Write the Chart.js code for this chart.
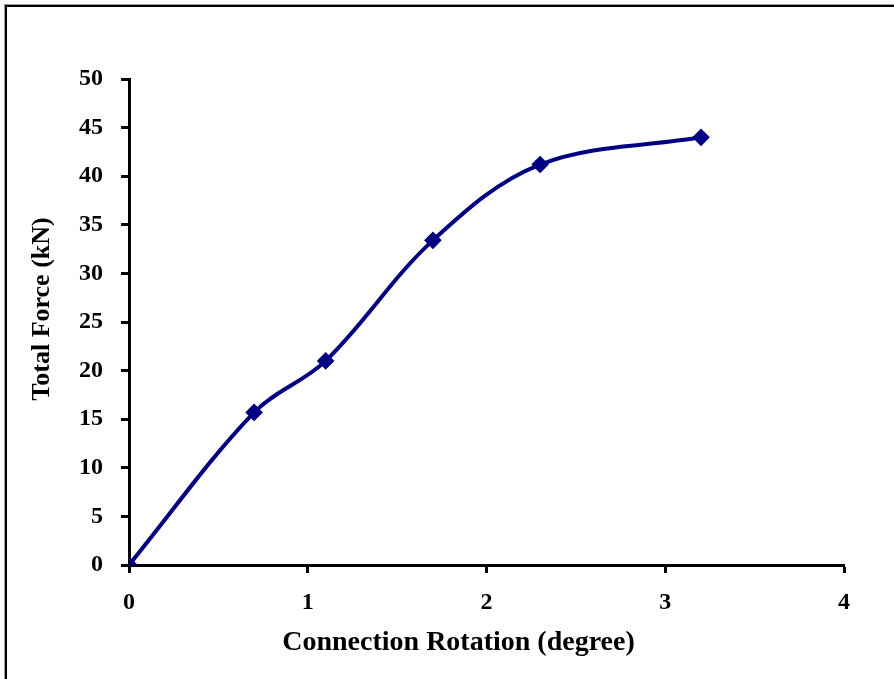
<!DOCTYPE html>
<html lang="en">
<head>
    <meta charset="UTF-8">
    <title>Total Force vs Connection Rotation</title>
    <script src="https://cdn.jsdelivr.net/npm/chart.js"></script>
    <style>
        body {
            margin: 0;
            background: #fff;
        }
        .wrap {
            position: relative;
            width: 894px;
            height: 679px;
            overflow: hidden;
        }
        .frame {
            position: absolute;
            left: 5px;
            top: 5px;
            width: 1000px;
            height: 1000px;
            border-left: 2px solid #000;
            border-top: 2px solid #000;
            box-shadow: -1px -1px 0 #999;
        }
        canvas {
            position: absolute;
            left: 0;
            top: 0;
        }
    </style>
</head>
<body>
    <div class="wrap">
        <div class="frame"></div>
        <canvas id="forceChart" width="894" height="679"></canvas>
    </div>

    <script>
        // values
        const rotation = [0, 0.7, 1.1, 1.7, 2.3, 3.2];
        const force = [0, 15.7, 21, 33.4, 41.2, 44];
        const xTicks = [0, 1, 2, 3, 4];
        const yTicks = [0, 5, 10, 15, 20, 25, 30, 35, 40, 45, 50];

        const points = rotation.map((r, i) => ({ x: r, y: force[i] }));
        const font = { family: 'Liberation Serif, Times New Roman, serif', weight: 'bold' };
        // en spaces nudge the axis titles off-centre, like the original
        const sp = '\u2002';

        const ctx = document.getElementById('forceChart').getContext('2d');
        new Chart(ctx, {
            type: 'line',
            data: {
                datasets: [{
                    data: points,
                    borderColor: '#000080',
                    backgroundColor: '#000080',
                    borderWidth: 4,
                    tension: 0.35,
                    pointStyle: 'rectRot',
                    pointRadius: 6,
                    pointHoverRadius: 6
                }]
            },
            options: {
                responsive: false,
                animation: false,
                layout: { padding: { top: 79, right: 50, left: 0, bottom: 0 } },
                plugins: {
                    legend: { display: false },
                    tooltip: { enabled: false }
                },
                scales: {
                    x: {
                        type: 'linear',
                        min: xTicks[0],
                        max: xTicks[xTicks.length - 1],
                        afterBuildTicks: s => { s.ticks = xTicks.map(v => ({ value: v })); },
                        afterFit: s => { s.height = 114; },
                        border: { color: '#000', width: 3 },
                        grid: { drawOnChartArea: false, tickLength: 8, tickColor: '#000', tickWidth: 3 },
                        ticks: { color: '#000', font: { ...font, size: 24 }, padding: 15 },
                        title: {
                            display: true,
                            text: 'Connection Rotation (degree)' + sp.repeat(4),
                            color: '#000',
                            font: { ...font, size: 28 },
                            padding: { top: 4, bottom: 19 }
                        }
                    },
                    y: {
                        min: yTicks[0],
                        max: yTicks[yTicks.length - 1],
                        afterBuildTicks: s => { s.ticks = yTicks.map(v => ({ value: v })); },
                        afterFit: s => { s.width = 129; },
                        border: { color: '#000', width: 3 },
                        grid: { drawOnChartArea: false, tickLength: 8, tickColor: '#000', tickWidth: 3 },
                        ticks: { color: '#000', font: { ...font, size: 24 }, padding: 18 },
                        title: {
                            display: true,
                            text: sp.repeat(2) + 'Total Force (kN)',
                            color: '#000',
                            font: { ...font, size: 26 },
                            padding: { top: 27, bottom: 4 }
                        }
                    }
                }
            }
        });
    </script>
</body>
</html>
